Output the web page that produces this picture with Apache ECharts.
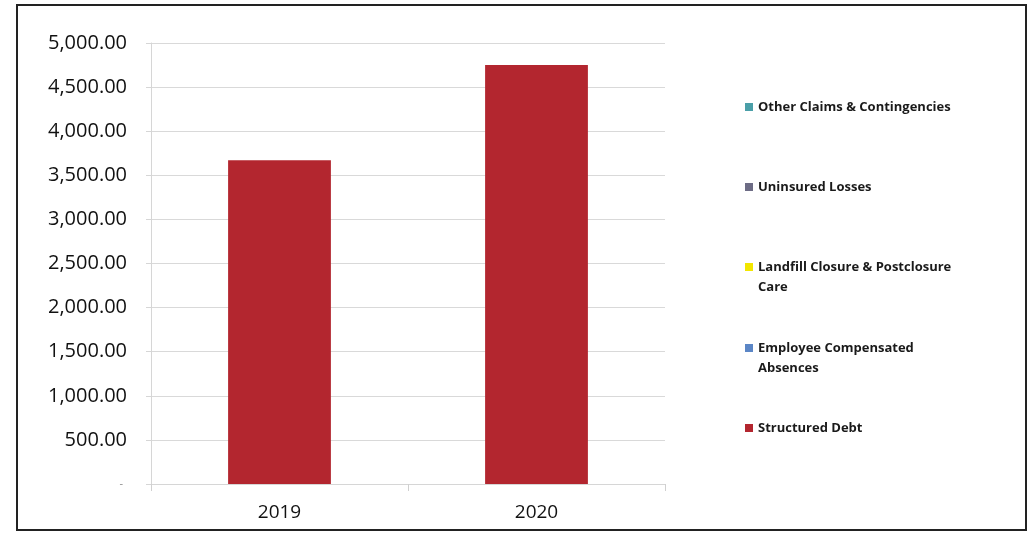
<!DOCTYPE html>
<html>
<head>
<meta charset="utf-8">
<script src="https://cdn.jsdelivr.net/npm/echarts@6/dist/echarts.min.js"></script>
<style>
  html, body { margin: 0; padding: 0; background: #ffffff; }
  #chart { width: 1028px; height: 533px; }
</style>
</head>
<body>
<div id="chart"></div>
<script>
// Long-term liabilities by category (thousands), stacked per fiscal year
const years = ['2019', '2020'];
const structuredDebt = [3670, 4750];
const employeeCompensatedAbsences = [0, 0];
const landfillClosureCare = [0, 0];
const uninsuredLosses = [0, 0];
const otherClaimsContingencies = [0, 0];

const yMin = 0;
const yMax = 5000;
const yStep = 500;

// Stack order bottom-to-top; the legend lists them top-to-bottom.
// Wrapped labels get an empty leading line so the swatch sits beside the first line.
const seriesDefs = [
  { name: 'Structured Debt', data: structuredDebt, color: '#b3262f', legendTop: 418, label: 'Structured Debt' },
  { name: 'Employee Compensated Absences', data: employeeCompensatedAbsences, color: '#5b86c6', legendTop: 318, label: ' \nEmployee Compensated\nAbsences' },
  { name: 'Landfill Closure & Postclosure Care', data: landfillClosureCare, color: '#f2e600', legendTop: 237, label: ' \nLandfill Closure & Postclosure\nCare' },
  { name: 'Uninsured Losses', data: uninsuredLosses, color: '#6d6c85', legendTop: 177, label: 'Uninsured Losses' },
  { name: 'Other Claims & Contingencies', data: otherClaimsContingencies, color: '#4a9fa8', legendTop: 97, label: 'Other Claims & Contingencies' }
];

const fmt = new Intl.NumberFormat('en-US', { minimumFractionDigits: 2, maximumFractionDigits: 2 });

const legendFont = { fontFamily: 'Open Sans', fontSize: 13, fontWeight: 'bold', color: '#1a1a1a', lineHeight: 20 };

const legends = seriesDefs.map(function (s) {
  return {
    left: 745,
    top: s.legendTop,
    padding: 0,
    orient: 'vertical',
    selectedMode: false,
    icon: 'rect',
    itemWidth: 8,
    itemHeight: 8,
    itemGap: 0,
    data: [s.name],
    formatter: function () { return s.label; },
    textStyle: legendFont
  };
});

const chart = echarts.init(document.getElementById('chart'), null, { renderer: 'canvas' });

chart.setOption({
  backgroundColor: '#ffffff',
  animation: false,
  grid: { left: 151, right: 363, top: 43, bottom: 49 },
  legend: legends,
  xAxis: {
    type: 'category',
    data: years,
    axisLine: { show: true, lineStyle: { color: '#d6d6d6', width: 1 } },
    axisTick: { show: true, length: 7, lineStyle: { color: '#d0d0d0' } },
    axisLabel: { fontFamily: 'Open Sans', fontSize: 19, color: '#111111', margin: 19 },
    splitLine: { show: false }
  },
  yAxis: {
    type: 'value',
    min: yMin,
    max: yMax,
    interval: yStep,
    axisLine: { show: true, lineStyle: { color: '#d6d6d6', width: 1 } },
    axisTick: { show: true, length: 5, lineStyle: { color: '#d6d6d6' } },
    splitLine: { show: true, lineStyle: { color: '#d9d9d9', width: 1 } },
    axisLabel: {
      margin: 24,
      fontFamily: 'Open Sans',
      fontSize: 20,
      color: '#111111',
      formatter: function (v) { return v === 0 ? '{z|-}' : fmt.format(v); },
      rich: { z: { fontSize: 11, color: '#8a8a8a', fontFamily: 'Open Sans', padding: [0, 4, 0, 0] } }
    }
  },
  series: seriesDefs.map(function (s) {
    return {
      name: s.name,
      type: 'bar',
      stack: 'total',
      barWidth: '40%',
      data: s.data,
      itemStyle: { color: s.color },
      emphasis: { disabled: true }
    };
  }),
  graphic: [{
    type: 'rect',
    shape: { x: 17, y: 5, width: 1009, height: 525 },
    style: { fill: 'none', stroke: '#222222', lineWidth: 2 },
    silent: true,
    z: 100
  }]
});
</script>
</body>
</html>
